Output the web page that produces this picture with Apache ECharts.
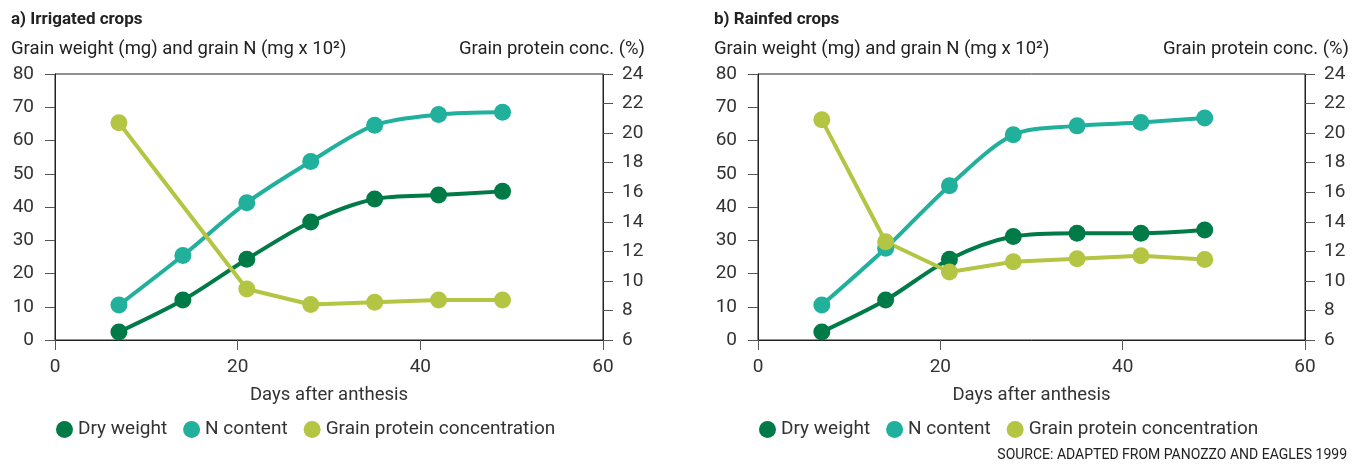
<!DOCTYPE html>
<html>
<head>
<meta charset="utf-8">
<script src="https://cdn.jsdelivr.net/npm/echarts@6/dist/echarts.min.js"></script>
<style>
  html, body { margin: 0; padding: 0; background: #fff; }
  #chart { width: 1368px; height: 464px; }
</style>
</head>
<body>
<div id="chart"></div>
<script>
const days = [7, 14, 21, 28, 35, 42, 49]

// a) irrigated
const irrDryWeight = [2.4, 12, 24.3, 35.5, 42.4, 43.6, 44.7]
const irrNContent = [10.5, 25.4, 41.3, 53.7, 64.6, 67.8, 68.5]
const irrProtein = [20.7, 9.45, 8.4, 8.55, 8.7, 8.7]
const irrProteinDays = [7, 21, 28, 35, 42, 49]

// b) rainfed
const rainDryWeight = [2.4, 12, 24.3, 31.1, 32.1, 32.1, 33.1]
const rainNContent = [10.5, 27.6, 46.4, 61.7, 64.4, 65.4, 66.8]
const rainProtein = [20.9, 12.65, 10.6, 11.3, 11.5, 11.7, 11.45]

const titles = ['a) Irrigated crops', 'b) Rainfed crops']
const leftAxisName = 'Grain weight (mg) and grain N (mg x 10²)'
const rightAxisName = 'Grain protein conc. (%)'
const xAxisName = 'Days after anthesis'
const source = 'SOURCE: ADAPTED FROM PANOZZO AND EAGLES 1999'

const colDry = '#007a47'
const colN = '#20b09b'
const colProt = '#b3c543'
const font = "'Liberation Sans Narrow', 'Roboto', sans-serif"
const textColor = '#333'

const chart = echarts.init(document.getElementById('chart'))

const pairs = (xs, ys) => ys.map((v, i) => [xs[i], v])

const grids = [
  { left: 55, top: 74, width: 548, height: 266 },
  { left: 758, top: 74, width: 547, height: 266 },
]

const makeX = (gi) => ({
  type: 'value',
  gridIndex: gi,
  min: 0,
  max: 60,
  interval: 20,
  name: xAxisName,
  nameLocation: 'middle',
  nameGap: 46,
  nameTextStyle: { fontFamily: font, fontSize: 18.5, color: textColor },
  axisLine: { show: true, lineStyle: { color: '#222', width: 1 } },
  axisTick: { show: true, length: 10, lineStyle: { color: '#555' } },
  axisLabel: { fontFamily: font, fontSize: 19, color: textColor, margin: 18 },
  splitLine: { show: false },
})

const makeYLeft = (gi) => ({
  type: 'value',
  gridIndex: gi,
  position: 'left',
  min: 0,
  max: 80,
  interval: 10,
  axisLine: { show: true, lineStyle: { color: '#222', width: 1 } },
  axisTick: { show: true, length: 10, lineStyle: { color: '#555' } },
  axisLabel: { fontFamily: font, fontSize: 19, color: textColor, margin: 21 },
  splitLine: { show: false },
})

const makeYRight = (gi) => ({
  type: 'value',
  gridIndex: gi,
  position: 'right',
  min: 6,
  max: 24,
  interval: 2,
  axisLine: { show: true, lineStyle: { color: '#222', width: 1 } },
  axisTick: { show: true, length: 10, lineStyle: { color: '#555' } },
  axisLabel: { fontFamily: font, fontSize: 19, color: textColor, margin: 19 },
  splitLine: { show: false },
})

const lineSeries = (name, color, data, xi, yi, smooth) => ({
  name,
  type: 'line',
  xAxisIndex: xi,
  yAxisIndex: yi,
  data,
  smooth,
  symbol: 'circle',
  symbolSize: 17,
  lineStyle: { color, width: 4 },
  itemStyle: { color },
  z: 3,
})

const textTitle = (text, left, top, size, weight) => ({
  text,
  left,
  top,
  textStyle: { fontFamily: font, fontSize: size, fontWeight: weight, color: '#222' },
})

const option = {
  backgroundColor: '#fff',
  animation: false,
  title: [
    textTitle(titles[0], 6, 6, 17, 'bold'),
    textTitle(titles[1], 709, 6, 17, 'bold'),
    textTitle(leftAxisName, 6, 35, 18.5, 'normal'),
    textTitle(leftAxisName, 709, 35, 18.5, 'normal'),
    { ...textTitle(rightAxisName, null, 35, 18.5, 'normal'), right: 718 },
    { ...textTitle(rightAxisName, null, 35, 18.5, 'normal'), right: 14 },
    { ...textTitle(source, null, 443, 14, 'normal'), right: 16 },
  ],
  legend: [0, 1].map((gi) => ({
    left: gi === 0 ? 51 : 754,
    top: 415,
    icon: 'circle',
    itemWidth: 17,
    itemHeight: 17,
    itemGap: 16,
    textStyle: { fontFamily: font, fontSize: 19, color: textColor },
    data: ['Dry weight', 'N content', 'Grain protein concentration'],
  })),
  grid: grids.map((g) => ({ ...g, show: true, borderColor: '#222', borderWidth: 1 })),
  xAxis: [makeX(0), makeX(1)],
  yAxis: [makeYLeft(0), makeYRight(0), makeYLeft(1), makeYRight(1)],
  series: [
    lineSeries('Dry weight', colDry, pairs(days, irrDryWeight), 0, 0, 0.3),
    lineSeries('N content', colN, pairs(days, irrNContent), 0, 0, 0.3),
    lineSeries('Grain protein concentration', colProt, pairs(irrProteinDays, irrProtein), 0, 1, false),
    lineSeries('Dry weight', colDry, pairs(days, rainDryWeight), 1, 2, 0.3),
    lineSeries('N content', colN, pairs(days, rainNContent), 1, 2, 0.3),
    lineSeries('Grain protein concentration', colProt, pairs(days, rainProtein), 1, 3, false),
  ],
}

chart.setOption(option)
</script>
</body>
</html>
